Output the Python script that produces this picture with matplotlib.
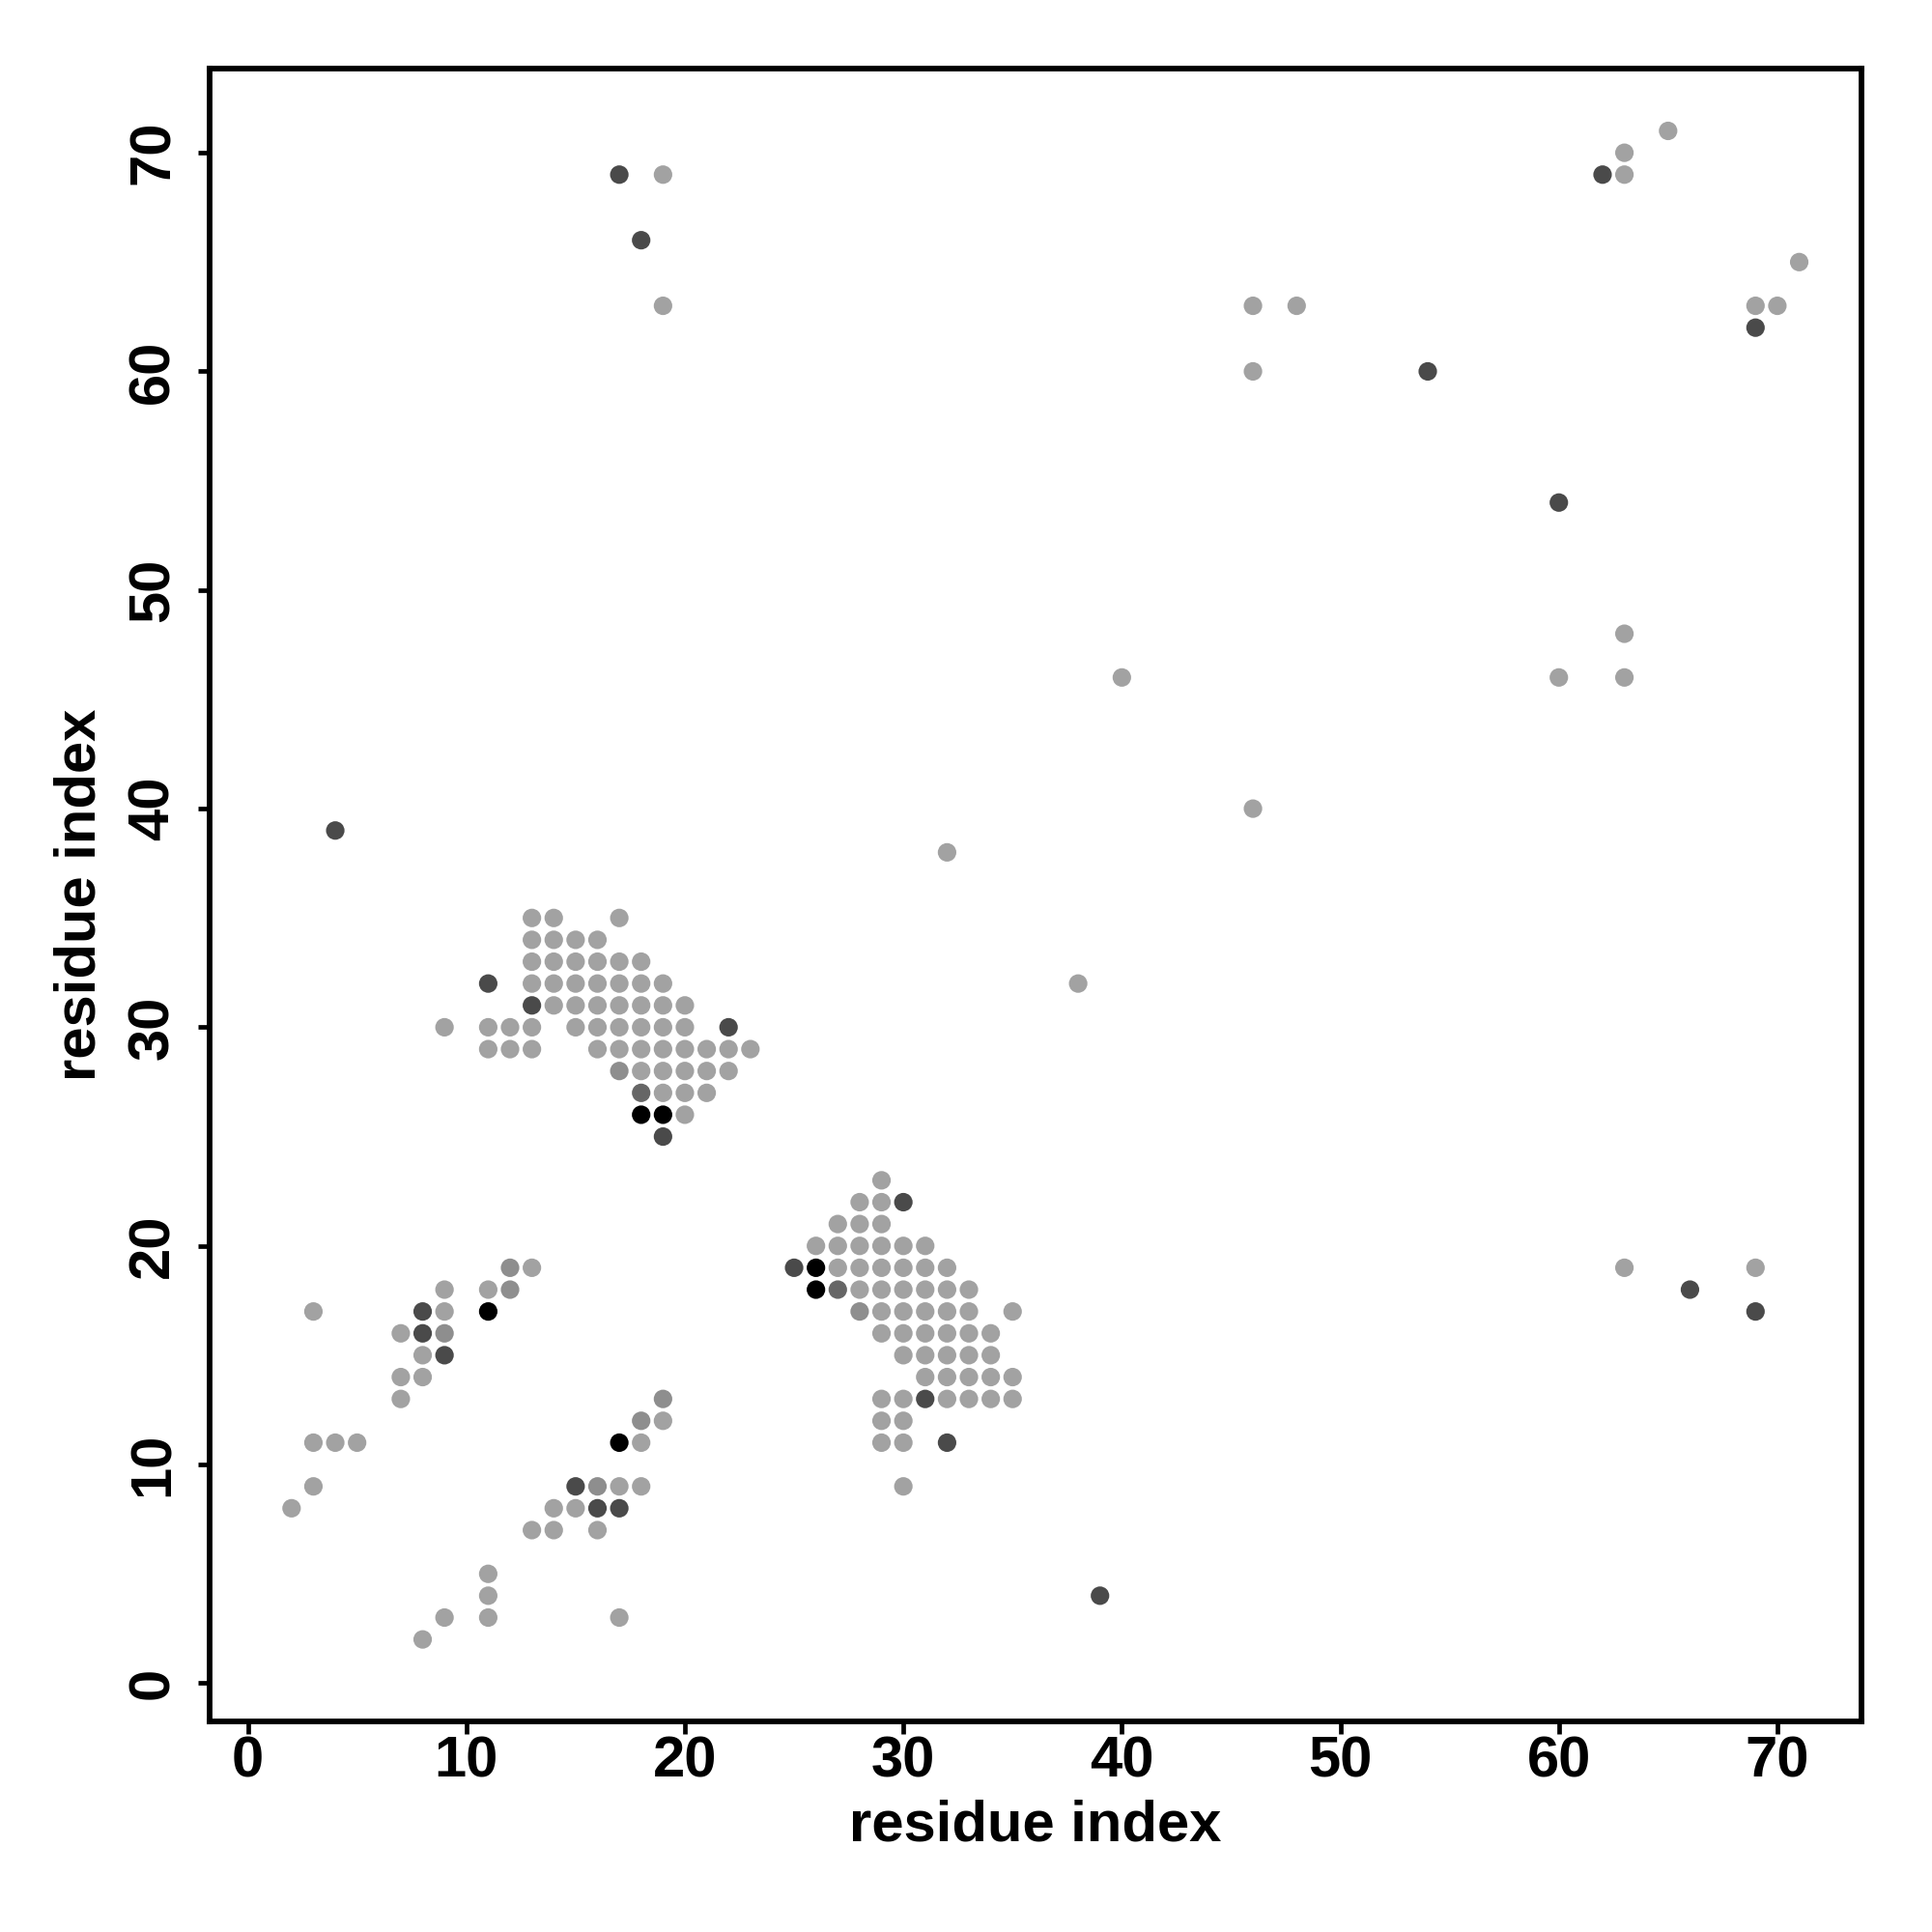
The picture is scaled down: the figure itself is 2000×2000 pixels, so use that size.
import matplotlib
matplotlib.use('Agg')
import matplotlib.pyplot as plt

# contact map: residue i, residue j, shade level (0 light grey ... 4 black)
# block 1 (i 9-23, j 25-35)
res_i = [13, 14, 17,
         13, 14, 15, 16,
         13, 14, 15, 16, 17, 18,
         11, 13, 14, 15, 16, 17, 18, 19,
         13, 14, 15, 16, 17, 18, 19, 20,
         9, 11, 12, 13, 15, 16, 17, 18, 19, 20, 22,
         11, 12, 13, 16, 17, 18, 19, 20, 21, 22, 23,
         17, 18, 19, 20, 21, 22,
         18, 19, 20, 21,
         18, 19, 20,
         19]
res_j = [35, 35, 35,
         34, 34, 34, 34,
         33, 33, 33, 33, 33, 33,
         32, 32, 32, 32, 32, 32, 32, 32,
         31, 31, 31, 31, 31, 31, 31, 31,
         30, 30, 30, 30, 30, 30, 30, 30, 30, 30, 30,
         29, 29, 29, 29, 29, 29, 29, 29, 29, 29, 29,
         28, 28, 28, 28, 28, 28,
         27, 27, 27, 27,
         26, 26, 26,
         25]
level = [0, 0, 0,
         0, 0, 0, 0,
         0, 0, 0, 0, 0, 0,
         3, 0, 0, 0, 0, 0, 0, 0,
         3, 0, 0, 0, 0, 0, 0, 0,
         0, 0, 0, 0, 0, 0, 0, 0, 0, 0, 3,
         0, 0, 0, 0, 0, 0, 0, 0, 0, 0, 0,
         1, 0, 0, 0, 0, 0,
         2, 0, 0, 0,
         4, 4, 0,
         3]

# block 2 (i 25-35, j 9-23)
res_i += [29,
          28, 29, 30,
          27, 28, 29,
          26, 27, 28, 29, 30, 31,
          25, 26, 27, 28, 29, 30, 31, 32,
          26, 27, 28, 29, 30, 31, 32, 33,
          28, 29, 30, 31, 32, 33, 35,
          29, 30, 31, 32, 33, 34,
          30, 31, 32, 33, 34,
          31, 32, 33, 34, 35,
          29, 30, 31, 32, 33, 34, 35,
          29, 30,
          29, 30, 32,
          30]
res_j += [23,
          22, 22, 22,
          21, 21, 21,
          20, 20, 20, 20, 20, 20,
          19, 19, 19, 19, 19, 19, 19, 19,
          18, 18, 18, 18, 18, 18, 18, 18,
          17, 17, 17, 17, 17, 17, 17,
          16, 16, 16, 16, 16, 16,
          15, 15, 15, 15, 15,
          14, 14, 14, 14, 14,
          13, 13, 13, 13, 13, 13, 13,
          12, 12,
          11, 11, 11,
          9]
level += [0,
          0, 0, 3,
          0, 0, 0,
          0, 0, 0, 0, 0, 0,
          3, 4, 0, 0, 0, 0, 0, 0,
          4, 2, 0, 0, 0, 0, 0, 0,
          1, 0, 0, 0, 0, 0, 0,
          0, 0, 0, 0, 0, 0,
          0, 0, 0, 0, 0,
          0, 0, 0, 0, 0,
          0, 0, 3, 0, 0, 0, 0,
          0, 0,
          0, 0, 3,
          0]

# lower left (i 2-19, j 2-19)
res_i += [12, 13,
          9, 11, 12,
          3, 8, 9, 11,
          7, 8, 9,
          8, 9,
          7, 8,
          7, 19,
          18, 19,
          3, 4, 5, 17, 18,
          3, 15, 16, 17, 18,
          2, 14, 15, 16, 17,
          13, 14, 16,
          11, 11, 9, 11, 17, 8]
res_j += [19, 19,
          18, 18, 18,
          17, 17, 17, 17,
          16, 16, 16,
          15, 15,
          14, 14,
          13, 13,
          12, 12,
          11, 11, 11, 11, 11,
          9, 9, 9, 9, 9,
          8, 8, 8, 8, 8,
          7, 7, 7,
          5, 4, 3, 3, 3, 2]
level += [1, 0,
          0, 0, 1,
          0, 3, 0, 4,
          0, 3, 1,
          0, 3,
          0, 0,
          0, 1,
          1, 0,
          0, 0, 0, 4, 0,
          0, 3, 1, 0, 0,
          0, 0, 0, 3, 3,
          0, 0, 0,
          0, 0, 0, 0, 0, 0]

# isolated contacts
res_i += [4, 17, 19, 18, 19, 32, 38, 40, 46, 48, 46, 46, 54, 60, 60,
          63, 63, 62, 63, 63, 65, 69, 70, 71, 69, 63, 66, 69, 69, 39]
res_j += [39, 69, 69, 66, 63, 38, 32, 46, 63, 63, 60, 40, 60, 54, 46,
          48, 46, 69, 69, 70, 71, 63, 63, 65, 62, 19, 18, 19, 17, 4]
level += [3, 3, 0, 3, 0, 0, 0, 0, 0, 0, 0, 0, 3, 3, 0,
          0, 0, 3, 0, 0, 0, 0, 0, 0, 3, 0, 3, 0, 3, 3]

shades = ['#a2a2a2', '#8e8e8e', '#666666', '#4a4a4a', '#000000']
ticks = [0, 10, 20, 30, 40, 50, 60, 70]

plt.rcParams['font.family'] = ['Liberation Sans', 'DejaVu Sans']
plt.rcParams['font.weight'] = 'bold'

fig = plt.figure(figsize=(20, 20), dpi=100)
ax = fig.add_axes([0.1085, 0.109, 0.855, 0.8555])

ax.scatter(res_i, res_j, s=13.8 ** 2, c=[shades[k] for k in level],
           linewidths=0, zorder=3)

ax.set_xlim(-1.75, 73.85)
ax.set_ylim(-1.75, 73.85)
ax.set_xticks(ticks)
ax.set_yticks(ticks)
for s in ax.spines.values():
    s.set_linewidth(4.2)
ax.tick_params(axis='both', direction='out', length=9, width=3.4,
               labelsize=43)
ax.tick_params(axis='x', pad=1.5)
ax.tick_params(axis='y', pad=13, labelrotation=90)
for lab in ax.get_yticklabels():
    lab.set_va('center')
    lab.set_fontweight('bold')
for lab in ax.get_xticklabels():
    lab.set_fontweight('bold')

ax.set_xlabel('residue index', fontsize=43, fontweight='bold')
ax.set_ylabel('residue index', fontsize=43, fontweight='bold')
ax.xaxis.set_label_coords(0.5, -0.047)
ax.yaxis.set_label_coords(-0.062, 0.5)

fig.savefig('out.png', dpi=100)
